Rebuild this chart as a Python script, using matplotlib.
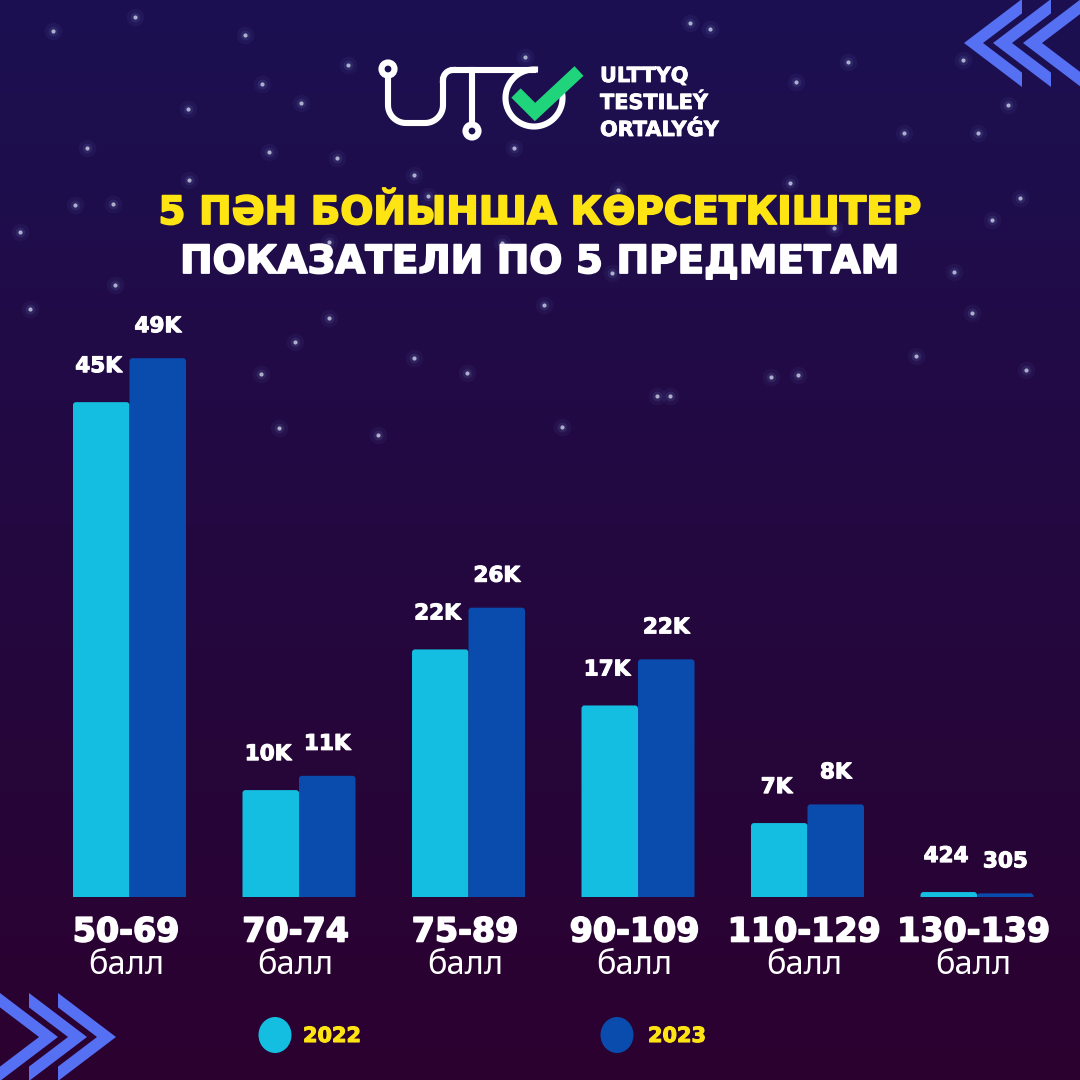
import numpy as np
import matplotlib
matplotlib.use("Agg")
import matplotlib.pyplot as plt
import matplotlib.patheffects as pe
from matplotlib.patches import Polygon, Ellipse, Circle, FancyBboxPatch

# ---------------- data ----------------
categories = ["50-69", "70-74", "75-89", "90-109", "110-129", "130-139"]
unit_label = "балл"
series_names = ["2022", "2023"]
values_2022 = [45000, 9700, 22500, 17400, 6700, 424]
values_2023 = [49000, 11000, 26300, 21600, 8400, 305]
labels_2022 = ["45K", "10K", "22K", "17K", "7K", "424"]
labels_2023 = ["49K", "11K", "26K", "22K", "8K", "305"]
title_kz = "5 ПӘН БОЙЫНША КӨРСЕТКІШТЕР"
title_ru = "ПОКАЗАТЕЛИ ПО 5 ПРЕДМЕТАМ"
logo_text = ["ULTTYQ", "TESTILEÝ", "ORTALYǴY"]

# ---------------- style ----------------
C22 = "#13bee0"
C23 = "#0a4bae"
YEL = "#ffe414"
WHITE = "#ffffff"
CHEV = "#5570f2"
GREEN = "#1fd47b"
TOP = np.array([28, 16, 82]) / 255
BOT = np.array([43, 1, 47]) / 255
BOLD = ["DejaVu Sans"]
REG = ["Noto Sans", "DejaVu Sans"]


def heavy(color, w=1.0):
    return [pe.withStroke(linewidth=w, foreground=color)]


W = H = 1080
fig = plt.figure(figsize=(10.8, 10.8), dpi=100)

# background axes in pixel coordinates (y down)
bg = fig.add_axes([0, 0, 1, 1])
bg.set_xlim(0, W)
bg.set_ylim(H, 0)
bg.axis("off")
t = np.linspace(0, 1, 512)[:, None, None]
grad = TOP[None, None, :] * (1 - t) + BOT[None, None, :] * t
bg.imshow(grad, extent=[0, W, H, 0], aspect="auto", zorder=0)

# stars (decorative)
stars = [(53, 31), (135, 17), (245, 35), (348, 65), (262, 84), (188, 109), (301, 103),
         (87, 148), (269, 152), (337, 158), (189, 180), (75, 205), (113, 204), (20, 232),
         (115, 285), (30, 309), (329, 318), (295, 342), (261, 374), (414, 358), (467, 373),
         (279, 428), (378, 435), (525, 57), (514, 148), (414, 175), (428, 196), (329, 242),
         (502, 243), (690, 23), (710, 29), (848, 62), (796, 82), (963, 60), (1008, 105),
         (904, 133), (978, 133), (790, 183), (618, 190), (1020, 198), (992, 220),
         (834, 228), (954, 272), (612, 273), (972, 313), (544, 305), (916, 356),
         (771, 377), (1026, 370), (798, 375), (657, 396), (670, 396), (562, 427)]
sx = [s[0] for s in stars]
sy = [s[1] for s in stars]
bg.scatter(sx, sy, s=160, color="#6a88d0", alpha=0.07, linewidths=0, zorder=1)
bg.scatter(sx, sy, s=50, color="#8aa0e0", alpha=0.12, linewidths=0, zorder=1)
bg.scatter(sx, sy, s=9, color="#c3c9e0", alpha=0.85, linewidths=0, zorder=2)


# chevrons (arms cut vertically)
def chevron(tx, ty, d, dx=58, h=44, th=19):
    k = th * h / dx
    pts = [(tx, ty), (tx - d * dx, ty - h), (tx - d * dx, ty - h + k),
           (tx - d * th, ty), (tx - d * dx, ty + h - k), (tx - d * dx, ty + h)]
    bg.add_patch(Polygon(pts, closed=True, color=CHEV, zorder=3, lw=0))


for tx in (964, 993, 1023):
    chevron(tx, 43, -1)
for tx in (58, 87, 116):
    chevron(tx, 1037, 1)

# logo
lw_logo = 4.4
ring_kw = dict(fill=True, facecolor=TOP, edgecolor=WHITE, lw=lw_logo, zorder=6)
r = 18
a1 = np.linspace(np.pi, 1.5 * np.pi, 20)
a2 = np.linspace(1.5 * np.pi, 2 * np.pi, 20)
ux = np.concatenate([[388], 388 + r + r * np.cos(a1), 443 - r + r * np.cos(a2), [443]])
uy = np.concatenate([[76], 105 - r * np.sin(a1), 105 - r * np.sin(a2), [80]])
bg.plot(ux, uy, color=WHITE, lw=lw_logo, zorder=5)
ca = np.linspace(np.pi, np.pi / 2, 20)
bg.plot(453 + 10 * np.cos(ca), 80 - 10 * np.sin(ca), color=WHITE, lw=lw_logo, zorder=5)
bg.plot([453, 533], [70, 70], color=WHITE, lw=lw_logo, zorder=5)
bg.plot([472, 472], [70, 124], color=WHITE, lw=lw_logo, zorder=5)
bg.add_patch(Circle((388, 69), 6.5, **ring_kw))
bg.add_patch(Circle((472, 131), 6.5, **ring_kw))
oa = np.linspace(np.radians(88), np.radians(372), 120)
bg.plot(534 + 28.5 * np.cos(oa), 98 - 28.5 * np.sin(oa), color=WHITE, lw=lw_logo, zorder=5)
bg.plot([516, 535, 579], [93, 112, 71], color=GREEN, lw=9.5, solid_joinstyle="miter",
        solid_capstyle="butt", zorder=7)
for i, txt in enumerate(logo_text):
    bg.text(600, 76 + 27 * i, txt, color=WHITE, fontsize=15, fontweight="bold",
            family=BOLD, va="center", ha="left", zorder=6, path_effects=heavy(WHITE, 0.6))

# titles
bg.text(540, 213, title_kz, color=YEL, fontsize=28, fontweight="bold", family=BOLD,
        ha="center", va="center", zorder=6, path_effects=heavy(YEL, 1.3))
bg.text(540, 262, title_ru, color=WHITE, fontsize=28, fontweight="bold", family=BOLD,
        ha="center", va="center", zorder=6, path_effects=heavy(WHITE, 1.3))

# ---------------- bars ----------------
base_px = 183.3           # baseline, pixels from bottom
px_per_unit = 10.99 / 1000
c0, step = 129.5, 169.5
ax = fig.add_axes([0, base_px / H, 1, (H - base_px) / H])
ax.set_xlim(-c0 / step, (W - c0) / step)
ax.set_ylim(0, (H - base_px) / px_per_unit)
ax.patch.set_alpha(0)
ax.axis("off")

x = np.arange(len(categories))
bw = 56.5 / step
bars22 = ax.bar(x - bw / 2, values_2022, width=bw, color=C22, zorder=3, linewidth=0)
bars23 = ax.bar(x + bw / 2, values_2023, width=bw, color=C23, zorder=3, linewidth=0)

# rounded top corners (3 px); the bottom rounding is hidden below the baseline
aspect = step / px_per_unit          # y units per x unit
rad_px = 3.0
rad_x = rad_px / step
rad_y = rad_px / px_per_unit
for cont in (bars22, bars23):
    for b in cont:
        b.set_visible(False)
        fb = FancyBboxPatch((b.get_x(), b.get_y() - rad_y), b.get_width(),
                            b.get_height() + rad_y,
                            boxstyle=f"round,pad=0,rounding_size={rad_x}",
                            mutation_aspect=aspect, facecolor=b.get_facecolor(),
                            linewidth=0, zorder=3)
        ax.add_patch(fb)


def px2pt(p):
    return p * 72 / 100


for xi, v, lab in zip(x - bw / 2, values_2022, labels_2022):
    ax.annotate(lab, (xi, v), xytext=(-2, px2pt(36)), textcoords="offset points",
                ha="center", va="center", color=WHITE, fontsize=15.5,
                fontweight="bold", family=BOLD, zorder=5, path_effects=heavy(WHITE, 0.8))
for xi, v, lab in zip(x + bw / 2, values_2023, labels_2023):
    ax.annotate(lab, (xi, v), xytext=(0, px2pt(32)), textcoords="offset points",
                ha="center", va="center", color=WHITE, fontsize=15.5,
                fontweight="bold", family=BOLD, zorder=5, path_effects=heavy(WHITE, 0.8))


def yfrac(y_top_px):
    return (H - y_top_px - base_px) / (H - base_px)


trans = ax.get_xaxis_transform()
for xi, cat in zip(x, categories):
    ax.text(xi - 0.02, yfrac(932), cat, transform=trans, ha="center", va="center",
            color=WHITE, fontsize=24, fontweight="bold", family=BOLD,
            path_effects=heavy(WHITE, 1.2))
    ax.text(xi - 0.02, yfrac(966), unit_label, transform=trans, ha="center", va="center",
            color=WHITE, fontsize=23.5, fontweight="normal", family=REG)

# legend
for (cx, tx_), col, name in zip([(275, 303), (617, 648)], [C22, C23], series_names):
    bg.add_patch(Ellipse((cx, 1035), 33, 36, color=col, zorder=6, lw=0))
    bg.text(tx_, 1036, name, color=YEL, fontsize=15, fontweight="bold", family=BOLD,
            ha="left", va="center", zorder=6, path_effects=heavy(YEL, 0.8))

fig.savefig("out.png", dpi=100)
